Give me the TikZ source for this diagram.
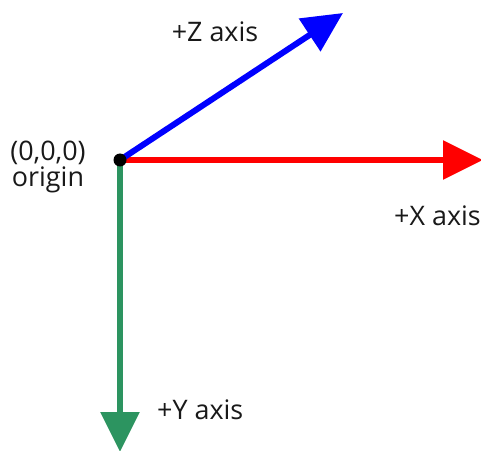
\documentclass[tikz,border=0pt]{standalone}
\usepackage{fontspec}
\setmainfont{Open Sans}
\usetikzlibrary{arrows.meta}
\definecolor{axisgreen}{RGB}{44,148,96}
\begin{document}
\begin{tikzpicture}[
    x=1bp, y=-1bp,
    axis/.style = {line width=6bp, draw=#1, -{Triangle[length=40bp, width=38bp]}},
    lbl/.style  = {font=\fontsize{27}{27}\selectfont, text=black!90, inner sep=0pt, align=center},
    dot/.style  = {circle, fill=black, inner sep=0pt, minimum size=13bp},
]
\useasboundingbox (0,0) rectangle (481,451);
\clip (0,0) rectangle (481,451);

% origin and axis ends
\coordinate (o)    at (120,160);
\coordinate (xend) at (483,160);
\coordinate (yend) at (120,452);
\coordinate (zend) at (343,13);

% axes
\draw[axis=axisgreen] (o) -- (yend);
\draw[axis=red]       (o) -- (xend);
\draw[axis=blue]      (o) -- (zend);
\node[dot] (org) at (o) {};

% labels
\node[lbl] (zlbl) at (215,32) {+Z axis};
\node[lbl] (olbl) at (48,167) {(0,0,0)\\origin};
\node[lbl, anchor=west] (xlbl) at (394,216) {+X axis};
\node[lbl, anchor=west] (ylbl) at (157,410) {+Y axis};
\end{tikzpicture}
\end{document}
